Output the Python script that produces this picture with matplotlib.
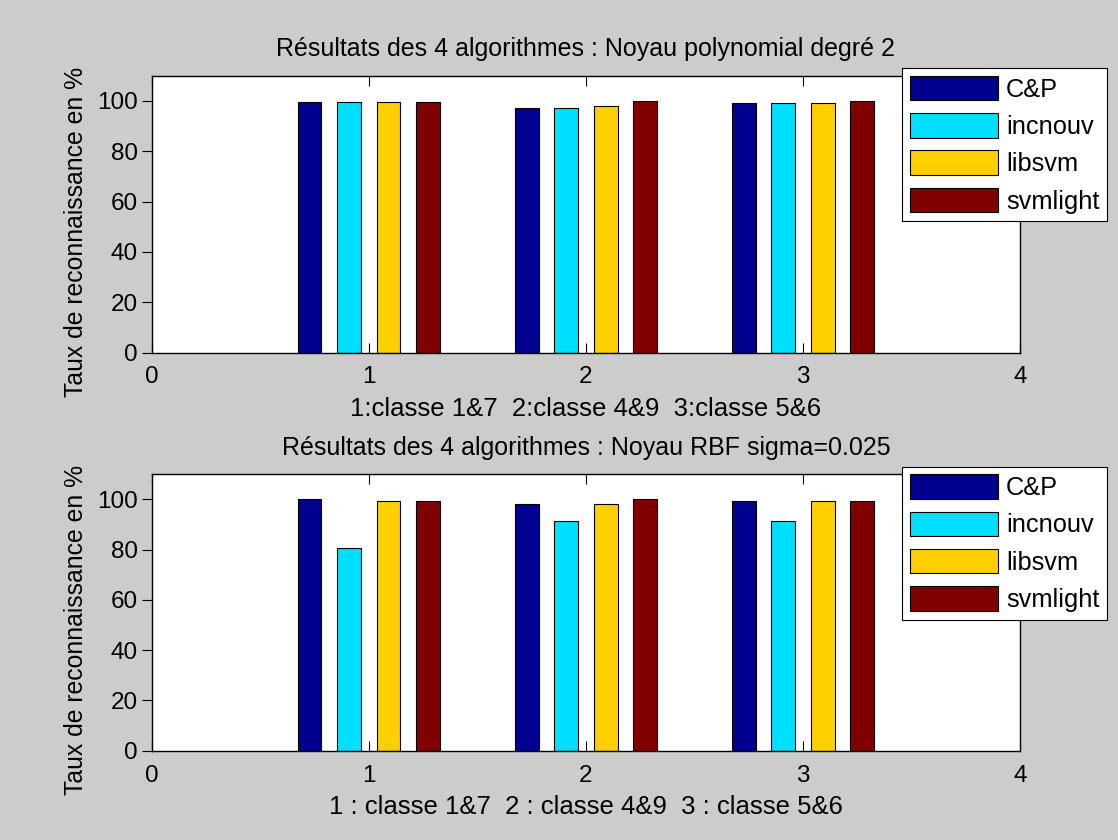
import numpy as np
import matplotlib
matplotlib.use("Agg")
import matplotlib.pyplot as plt
from matplotlib.patches import Rectangle
from matplotlib.legend_handler import HandlerPatch

plt.rcParams['font.family'] = ['Liberation Sans', 'DejaVu Sans']

groups = [1, 2, 3]
algorithms = ["C&P", "incnouv", "libsvm", "svmlight"]
colors = ["#00008F", "#00DFFF", "#FFCF00", "#800000"]

# Recognition rates (%) for the polynomial kernel of degree 2
poly_cp = [99.5, 97.0, 99.0]
poly_incnouv = [99.5, 97.0, 99.0]
poly_libsvm = [99.5, 98.0, 99.0]
poly_svmlight = [99.5, 100.0, 100.0]

# Recognition rates (%) for the RBF kernel, sigma = 0.025
rbf_cp = [100.0, 98.0, 99.5]
rbf_incnouv = [80.5, 91.5, 91.5]
rbf_libsvm = [99.5, 98.0, 99.5]
rbf_svmlight = [99.5, 100.0, 99.5]

yticks = [0, 20, 40, 60, 80, 100]
xticks = [0, 1, 2, 3, 4]

titles = ["Résultats des 4 algorithmes : Noyau polynomial degré 2",
          "Résultats des 4 algorithmes : Noyau RBF sigma=0.025"]
xlabels = ["1:classe 1&7  2:classe 4&9  3:classe 5&6",
           "1 : classe 1&7  2 : classe 4&9  3 : classe 5&6"]
ylabel = "Taux de reconnaissance en %"

W, H = 1118, 840
fig = plt.figure(figsize=(W / 100, H / 100), dpi=100, facecolor="#cccccc")
PT = 72 / 100  # points per pixel


def fx(px):
    return px / W


def fy(py):
    return 1 - py / H


def legend_swatch(legend, orig_handle, xdescent, ydescent, width, height, fontsize):
    # wide swatch sitting at the right of the handle box
    sw, sh = 80 * PT, 28 * PT
    return Rectangle((-xdescent + width - sw, -ydescent + (height - sh) / 2), sw, sh)


ax_left, ax_right = 151.7, 1020.0
panels = [
    (75.7, 352.5, [poly_cp, poly_incnouv, poly_libsvm, poly_svmlight], 68.3),
    (474.3, 750.7, [rbf_cp, rbf_incnouv, rbf_libsvm, rbf_svmlight], 466.7),
]

offsets = np.array([-0.273, -0.091, 0.091, 0.273])
bar_w = 0.11
FS_TICK = 17.5
FS_TITLE = 18
FS_XLAB = 18.5
FS_YLAB = 17.8
FS_LEG = 18.3
leg_em = FS_LEG / PT  # legend font size in pixels

for i, (top, bottom, series, leg_top) in enumerate(panels):
    ax = fig.add_axes([fx(ax_left), fy(bottom), fx(ax_right - ax_left), (bottom - top) / H])
    ax.set_facecolor("white")
    x = np.array(groups, dtype=float)
    for k, (vals, c, name) in enumerate(zip(series, colors, algorithms)):
        ax.bar(x + offsets[k], vals, width=bar_w, color=c, edgecolor="black",
               linewidth=0.8, label=name, zorder=2)
    ax.set_xlim(0, 4)
    ax.set_ylim(0, 110)
    ax.set_xticks(xticks)
    ax.set_yticks(yticks)
    ax.tick_params(axis="x", direction="in", top=True, bottom=True, length=7,
                   width=0.8, labelsize=FS_TICK, pad=10)
    ax.tick_params(axis="y", direction="out", left=True, right=False, length=7,
                   width=0.8, labelsize=FS_TICK, pad=3)
    for s in ax.spines.values():
        s.set_linewidth(1.0)
        s.set_color("black")
    ax.set_title(titles[i], fontsize=FS_TITLE, pad=14)
    ax.set_xlabel(xlabels[i], fontsize=FS_XLAB, labelpad=6)
    ax.set_ylabel(ylabel, fontsize=FS_YLAB)
    ax.yaxis.set_label_coords(-0.0734, 0.437)

    leg = ax.legend(loc="upper left", bbox_to_anchor=(fx(902), fy(leg_top)),
                    bbox_transform=fig.transFigure, fontsize=FS_LEG,
                    handler_map={Rectangle: HandlerPatch(patch_func=legend_swatch)},
                    handlelength=(80 + 8.5) / leg_em, handleheight=28 / leg_em,
                    labelspacing=0.45, handletextpad=8 / leg_em,
                    borderpad=7.6 / leg_em, borderaxespad=0,
                    fancybox=False, framealpha=1, edgecolor="black")
    leg.get_frame().set_linewidth(0.8)
    leg.set_zorder(5)

fig.savefig("out.png", dpi=100, facecolor=fig.get_facecolor())
